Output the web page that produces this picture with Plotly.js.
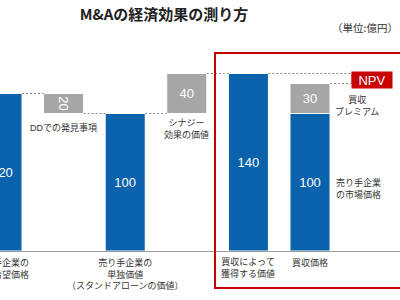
<!DOCTYPE html>
<html>
<head>
<meta charset="utf-8">
<script src="https://cdn.plot.ly/plotly-3.0.1.min.js"></script>
<style>
  html, body { margin: 0; padding: 0; background: #ffffff; }
  #chart { width: 400px; height: 300px; }
</style>
</head>
<body>
<div id="chart"></div>
<script>
// Steps of the M&A value bridge (億円)
const steps = ['売り手企業の希望価格', 'DDでの発見事項', '売り手企業の単独価値', 'シナジー効果の価値', '買収によって獲得する価値', '買収価格', 'NPV'];
const stepLabels = ['売り手企業の<br>売却希望価格', '', '売り手企業の<br>単独価値<br>（スタンドアローンの価値）', '', '買収によって<br>獲得する価値', '買収価格', ''];
const totals = [120, null, 100, null, 140, 100, null];
const adjustments = [null, 20, null, 40, null, 30, null];
const adjustmentBases = [null, 100, null, 100, null, 100, null];
const npvValues = [null, null, null, null, null, null, 10];
const npvBases = [null, null, null, null, null, null, 130];

// Layout constants
const yMin = -37.5, yMax = 173.5;
const barWidth = 0.65;
const blue = '#0A62AD', gray = '#A6A6A6', red = '#C80000';
const numFont = 'Liberation Sans, Arial, sans-serif';
const jpFont = 'Liberation Sans, "Noto Sans CJK JP", sans-serif';

const idx = steps.map((_, i) => i);
const pick = (arr) => idx.filter(i => arr[i] !== null);

const totalIdx = pick(totals);
const adjIdx = pick(adjustments);
const npvIdx = pick(npvValues);

const traces = [
  {
    type: 'bar', x: totalIdx, y: totalIdx.map(i => totals[i] - yMin), base: totalIdx.map(() => yMin),
    text: totalIdx.map(i => String(totals[i])), textposition: 'inside', insidetextanchor: 'middle',
    constraintext: 'none', textfont: { color: '#ffffff', size: 13, family: numFont },
    marker: { color: blue, line: { color: '#ffffff', width: 1 } }, width: barWidth, hoverinfo: 'skip'
  },
  {
    type: 'bar', x: adjIdx, y: adjIdx.map(i => adjustments[i]), base: adjIdx.map(i => adjustmentBases[i]),
    text: adjIdx.map(i => String(adjustments[i])), textposition: 'inside', insidetextanchor: 'middle',
    constraintext: 'none', textfont: { color: '#ffffff', size: 13, family: numFont },
    marker: { color: gray, line: { color: '#ffffff', width: 1 } }, width: barWidth, hoverinfo: 'skip'
  },
  {
    type: 'bar', x: npvIdx, y: npvIdx.map(i => npvValues[i]), base: npvIdx.map(i => npvBases[i]),
    marker: { color: red, line: { width: 0 } }, width: barWidth, hoverinfo: 'skip'
  }
];

// Dotted connectors between the levels of neighbouring steps
const connectors = [
  [0, 1, totals[0]],
  [1, 2, adjustmentBases[1]],
  [2, 3, totals[2]],
  [3, 4, adjustmentBases[3] + adjustments[3]],
  [4, 6, totals[4]],
  [5, 6, adjustmentBases[5] + adjustments[5]]
];
const shapes = connectors.map(([a, b, lvl]) => ({
  type: 'line', xref: 'x', yref: 'y',
  x0: a + barWidth / 2, x1: b - barWidth / 2, y0: lvl, y1: lvl,
  line: { color: '#8C8C8C', width: 1, dash: '2px,2px' }
}));
// Frame around the acquisition side
shapes.push({
  type: 'rect', xref: 'paper', yref: 'paper', x0: 0.5375, x1: 1.03, y0: -0.1754, y1: 0.9384,
  line: { color: red, width: 2 }, fillcolor: 'rgba(0,0,0,0)'
});

const labelFont = { family: jpFont, size: 9, color: '#333333' };
const annotations = [
  { x: 1, y: adjustmentBases[1], xref: 'x', yref: 'y', text: 'DDでの発見事項', showarrow: false,
    yanchor: 'top', yshift: -6, font: labelFont },
  { x: 3, y: adjustmentBases[3], xref: 'x', yref: 'y', text: 'シナジー<br>効果の価値', showarrow: false,
    yanchor: 'top', yshift: -2, font: labelFont },
  { x: 5, y: adjustmentBases[5] + adjustments[5] / 2, xref: 'x', yref: 'y', text: '買収<br>プレミアム', showarrow: false,
    xanchor: 'center', xshift: 47, yshift: -7, font: labelFont },
  { x: 5, y: (totals[5] + yMin) / 2, xref: 'x', yref: 'y', text: '売り手企業<br>の市場価格', showarrow: false,
    xanchor: 'left', align: 'left', xshift: 24, yshift: -6, font: labelFont },
  { x: 6, y: npvBases[6] + npvValues[6] / 2, xref: 'x', yref: 'y', text: 'NPV', showarrow: false,
    bgcolor: red, width: 40, height: 16, borderpad: 0, yshift: -1.5,
    font: { family: numFont, size: 13, color: '#ffffff' } },
  { x: 1, y: 1.0616, xref: 'paper', yref: 'paper', text: '（単位:億円）', showarrow: false,
    xanchor: 'right', yanchor: 'middle', font: { family: '"Noto Sans CJK JP", sans-serif', size: 10.5, color: '#333333' } }
];
// Step names under the baseline
idx.forEach(i => {
  if (!stepLabels[i]) return;
  annotations.push({
    x: i, y: 0, xref: 'x', yref: 'paper', text: stepLabels[i], showarrow: false,
    xanchor: 'center', yanchor: 'top', yshift: -4, align: 'center', font: labelFont
  });
});

const layout = {
  width: 400, height: 300,
  margin: { l: 0, r: 0, t: 40, b: 49, pad: 0 },
  paper_bgcolor: '#ffffff', plot_bgcolor: '#ffffff',
  showlegend: false, barmode: 'overlay',
  title: {
    text: '<b>M&amp;Aの経済効果の測り方</b>',
    font: { family: '"Noto Sans CJK JP", sans-serif', size: 15, color: '#222222' },
    xref: 'paper', x: 0.41, xanchor: 'center', yref: 'container', y: 0.95, yanchor: 'middle'
  },
  xaxis: {
    range: [-0.0325, 6.461], showgrid: false, zeroline: false, automargin: false,
    showline: true, linecolor: '#9A9A9A', linewidth: 1,
    showticklabels: false, ticks: '', fixedrange: true
  },
  yaxis: {
    range: [yMin, yMax], visible: false, showgrid: false, zeroline: false, automargin: false, fixedrange: true
  },
  shapes: shapes,
  annotations: annotations
};

Plotly.newPlot('chart', traces, layout, { displayModeBar: false, staticPlot: true });
</script>
</body>
</html>
